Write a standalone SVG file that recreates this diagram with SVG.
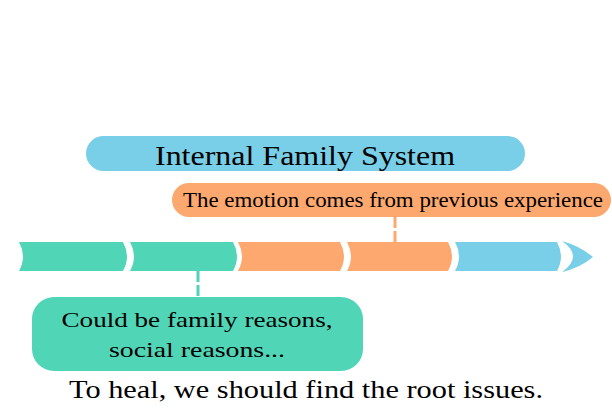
<svg xmlns="http://www.w3.org/2000/svg" width="612" height="408" viewBox="0 0 612 408">
<style>
.t{font-family:"Liberation Serif","DejaVu Serif",serif;fill:#000;text-anchor:middle}
.g{fill:#50D6B7}.o{fill:#FDA86E}.b{fill:#7ACFE8}
.dash{stroke-width:3;stroke-dasharray:11 3;fill:none}
</style>
<rect width="612" height="408" fill="#fff"/>
<g id="timeline">
<path class="g" d="M19,242 H123 Q131,256.5 123,271 H19 Q27,256.5 19,242 Z"/>
<path class="g" d="M130,242 H233 Q241,256.5 233,271 H130 Q138,256.5 130,242 Z"/>
<path class="o" d="M238,242 H340 Q348,256.5 340,271 H238 Q246,256.5 238,242 Z"/>
<path class="o" d="M347,242 H448 Q456,256.5 448,271 H347 Q355,256.5 347,242 Z"/>
<path class="b" d="M455,242 H557 Q565,256.5 557,271 H455 Q463,256.5 455,242 Z"/>
<path class="b" d="M562,241 Q580,246 593,257 Q580,268 562,272 Q584,256.5 562,241 Z"/>
</g>
<g id="connectors">
<line class="dash" x1="395" y1="217" x2="395" y2="242" stroke="#FDA86E"/>
<line class="dash" x1="198" y1="271" x2="198" y2="297" stroke="#50D6B7"/>
</g>
<g id="title">
<rect class="b" x="86" y="136" width="439" height="35" rx="17.5"/>
<text class="t" x="305" y="165" font-size="27" textLength="300" lengthAdjust="spacingAndGlyphs">Internal Family System</text>
</g>
<g id="emotion">
<rect class="o" x="172" y="183" width="439" height="34" rx="17"/>
<text class="t" x="393" y="207" font-size="21" textLength="420" lengthAdjust="spacingAndGlyphs">The emotion comes from previous experience</text>
</g>
<g id="reasons">
<rect class="g" x="32" y="297" width="331" height="74" rx="22"/>
<text class="t" x="197" y="327" font-size="22" textLength="271" lengthAdjust="spacingAndGlyphs">Could be family reasons,</text>
<text class="t" x="197" y="357" font-size="22" textLength="176" lengthAdjust="spacingAndGlyphs">social reasons...</text>
</g>
<g id="conclusion">
<text class="t" x="306" y="398" font-size="25" textLength="474" lengthAdjust="spacingAndGlyphs">To heal, we should find the root issues.</text>
</g>
</svg>
